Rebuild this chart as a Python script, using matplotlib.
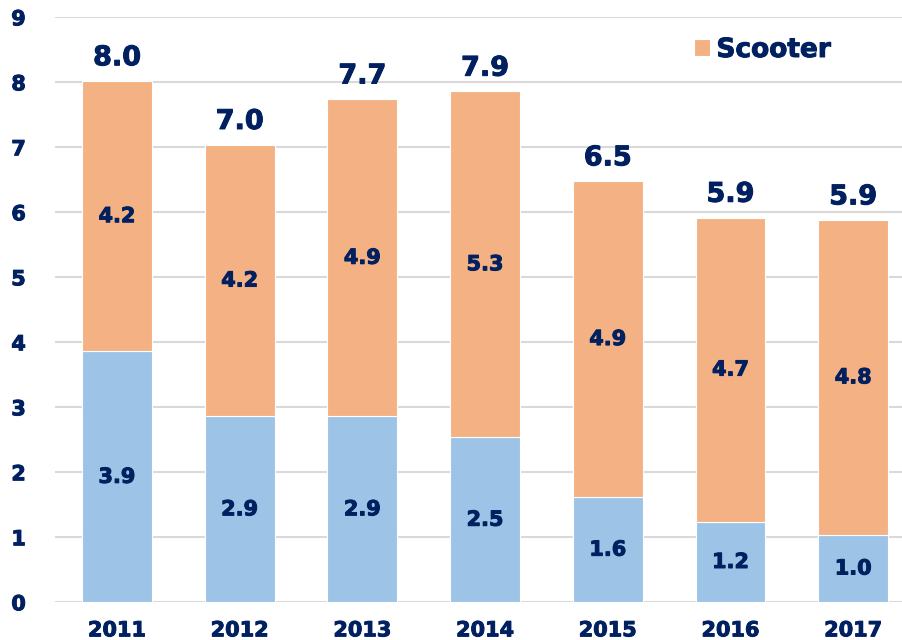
import matplotlib.pyplot as plt
import matplotlib.patheffects as pe
import numpy as np

years = ["2011", "2012", "2013", "2014", "2015", "2016", "2017"]
bottom_vals = [3.86, 2.86, 2.86, 2.54, 1.62, 1.24, 1.04]
scooter = [4.16, 4.18, 4.88, 5.32, 4.86, 4.68, 4.84]

navy = "#002060"
orange = "#F4B183"
blue = "#9DC3E6"

plt.rcParams['font.family'] = ['DejaVu Sans']
plt.rcParams['font.weight'] = 'bold'

# a thin stroke makes DejaVu Bold look closer to the heavier original font
heavy = [pe.withStroke(linewidth=0.7, foreground=navy)]

fig = plt.figure(figsize=(9.03, 6.4), dpi=100)
ax = fig.add_axes([55/903, 37.7/640, 848/903, 585/640])

x = np.arange(len(years))
b = np.array(bottom_vals)
s = np.array(scooter)
tot = b + s

ax.bar(x, b, width=0.57, color=blue, edgecolor="white", linewidth=0.8, zorder=3)
ax.bar(x, s, bottom=b, width=0.57, color=orange, edgecolor="white", linewidth=0.8,
       zorder=3, label="Scooter")

for i in range(len(x)):
    ax.text(x[i], b[i] / 2, f"{b[i]:.1f}", ha="center", va="center",
            fontsize=15, color=navy, fontweight="bold", zorder=4, path_effects=heavy)
    ax.text(x[i], b[i] + s[i] / 2, f"{s[i]:.1f}", ha="center", va="center",
            fontsize=15, color=navy, fontweight="bold", zorder=4, path_effects=heavy)
    ax.annotate(f"{tot[i]:.1f}", (x[i], tot[i]), xytext=(0, 7), textcoords="offset points",
                ha="center", va="bottom", fontsize=19.5, color=navy, fontweight="bold",
                annotation_clip=False, path_effects=heavy)

ax.set_xlim(-0.505, 6.406)
ax.set_ylim(0, 9)
ax.set_yticks(range(10))
ax.set_xticks(x)
ax.set_xticklabels(years)
ax.yaxis.grid(True, color="#D9D9D9", linewidth=1.5, zorder=0)
ax.set_axisbelow(True)
for sp in ax.spines.values():
    sp.set_visible(False)
ax.tick_params(axis="y", length=0, pad=21, labelsize=15, labelcolor=navy)
ax.tick_params(axis="x", length=0, pad=13, labelsize=15, labelcolor=navy)
for lab in ax.get_xticklabels() + ax.get_yticklabels():
    lab.set_path_effects(heavy)

leg = ax.legend(loc="center left", bbox_to_anchor=(694/903, 1 - 50/640),
                bbox_transform=fig.transFigure, frameon=False, fontsize=19,
                handlelength=0.6, handleheight=0.6, handletextpad=0.25, borderpad=0,
                borderaxespad=0)
for t in leg.get_texts():
    t.set_color(navy)
    t.set_fontweight("bold")
    t.set_path_effects(heavy)

fig.savefig("out.png", dpi=100)
